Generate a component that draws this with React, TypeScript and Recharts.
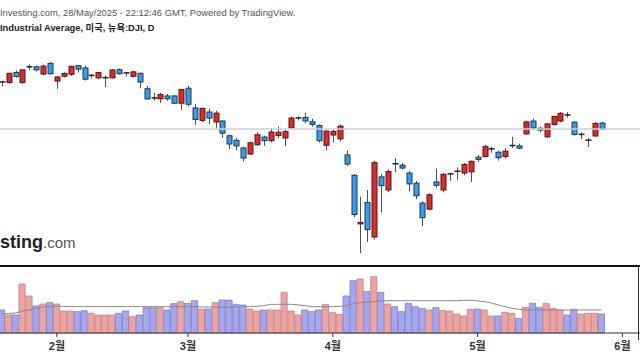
import React from 'react';
import { ComposedChart, Bar, Line, XAxis, YAxis, ReferenceLine, Cell } from 'recharts';

const FONT = "'Liberation Sans', Arial, 'Noto Sans CJK KR', sans-serif";

// trading days shown, 22 Jan .. 28 May 2025
const dates = [
  '01/22', '01/23', '01/24', '01/27', '01/28', '01/29', '01/30', '01/31',
  '02/03', '02/04', '02/05', '02/06', '02/07', '02/10', '02/11', '02/12', '02/13', '02/14',
  '02/18', '02/19', '02/20', '02/21', '02/24', '02/25', '02/26', '02/27', '02/28',
  '03/03', '03/04', '03/05', '03/06', '03/07', '03/10', '03/11', '03/12', '03/13', '03/14',
  '03/17', '03/18', '03/19', '03/20', '03/21', '03/24', '03/25', '03/26', '03/27', '03/28', '03/31',
  '04/01', '04/02', '04/03', '04/04', '04/07', '04/08', '04/09', '04/10', '04/11', '04/14',
  '04/15', '04/16', '04/17', '04/21', '04/22', '04/23', '04/24', '04/25', '04/28', '04/29', '04/30',
  '05/01', '05/02', '05/05', '05/06', '05/07', '05/08', '05/09', '05/12', '05/13', '05/14',
  '05/15', '05/16', '05/19', '05/20', '05/21', '05/22', '05/23', '05/27', '05/28',
];

const opens = [
  44180, 44156, 44600, 44150, 44820, 44850, 44530, 45000,
  44220, 44430, 44520, 44900, 44800, 44440, 44360, 44350, 44360, 44720,
  44580, 44430, 44560, 43880, 43470, 43430, 43560, 43560, 43240,
  43900, 43030, 42480, 42850, 42410, 42450, 41800, 41600, 41260, 40990,
  41400, 41740, 41580, 41810, 41700, 42150, 42570, 42610, 42420, 42250, 41380,
  41830, 41660, 40950, 40050, 37900, 38850, 37320, 39980, 39400, 40560,
  40500, 40150, 39700, 38820, 38550, 39760, 39400, 40080, 40190, 40150, 40200,
  40850, 40880, 41200, 41070, 40880, 41330, 41350, 41880, 42450, 42130,
  41750, 42300, 42450, 42720, 42400, 41830, 41580, 41790, 42360,
];

const highs = [
  44240, 44580, 44690, 44730, 44960, 44900, 44950, 45054,
  44450, 44600, 44890, 44930, 44900, 44530, 44620, 44470, 44740, 44780,
  44600, 44680, 44600, 44000, 43700, 43690, 43650, 43600, 43880,
  44000, 43200, 43050, 43000, 42900, 42500, 41850, 41700, 41300, 41550,
  41960, 41800, 42150, 42200, 42050, 42650, 42650, 42820, 42550, 42300, 42050,
  42100, 42300, 41150, 40100, 39100, 39400, 40700, 40100, 40300, 40800,
  40600, 40250, 39800, 38900, 39250, 40350, 40150, 40150, 40400, 40600, 40700,
  40950, 41400, 41300, 41150, 41250, 41750, 41450, 42470, 42550, 42200,
  42350, 42680, 42850, 42850, 42450, 41950, 41700, 42400, 42420,
];

const lows = [
  43980, 44100, 44380, 44100, 44700, 44650, 44480, 44500,
  43880, 44380, 44440, 44600, 44250, 44330, 44300, 43950, 44330, 44500,
  44420, 44380, 43900, 43400, 43350, 43250, 43350, 43200, 42950,
  43100, 42280, 42400, 42320, 42150, 41700, 41200, 41150, 40660, 40950,
  41350, 41350, 41500, 41700, 41350, 42100, 42480, 42350, 42200, 41500, 41150,
  41500, 41550, 40450, 38200, 36612, 37100, 37200, 38400, 39300, 40200,
  40300, 39350, 39000, 37800, 38500, 39500, 39300, 39800, 39850, 40050, 39750,
  40650, 40850, 41050, 40700, 40800, 41250, 41200, 41850, 42050, 41950,
  41700, 42250, 42400, 42600, 41800, 41650, 41300, 41750, 42050,
];

const closes = [
  44157, 44565, 44424, 44714, 44851, 44714, 44882, 44545,
  44400, 44556, 44873, 44747, 44303, 44470, 44593, 44368, 44711, 44546,
  44556, 44627, 44176, 43428, 43461, 43621, 43433, 43239, 43841,
  43191, 42521, 43006, 42579, 42802, 41912, 41433, 41350, 40813, 41488,
  41842, 41581, 41965, 41953, 41985, 42583, 42588, 42455, 42300, 41584, 42002,
  41989, 42226, 40546, 38315, 37966, 37646, 40609, 39594, 40213, 40525,
  40369, 39669, 39142, 38171, 39187, 39607, 40093, 40114, 40228, 40527, 40669,
  40753, 41317, 41219, 40829, 41114, 41368, 41249, 42410, 42140, 42051,
  42323, 42655, 42792, 42677, 41860, 41859, 41603, 42343, 42098,
];

// volume, millions of shares
const volumes = [
  345, 270, 270, 735, 555, 405, 435, 455,
  435, 330, 330, 320, 335, 295, 270, 270, 270, 295,
  330, 245, 270, 380, 380, 380, 345, 440, 470,
  445, 485, 360, 360, 455, 495, 495, 430, 420, 360,
  330, 345, 345, 345, 610, 330, 270, 345, 320, 345, 430,
  305, 280, 555, 785, 810, 620, 845, 610, 435, 395,
  320, 445, 395, 370, 345, 380, 335, 330, 285, 255, 355,
  360, 345, 255, 255, 310, 295, 220, 385, 445, 385,
  445, 370, 345, 270, 355, 285, 295, 295, 285,
];

// volume moving average as drawn
const volumeAvg = [
  290, 290, 300, 330, 345, 370, 390, 400,
  405, 398, 396, 396, 396, 396, 396, 396, 396, 396,
  396, 396, 396, 395, 395, 395, 395, 395, 395,
  395, 395, 392, 390, 388, 386, 385, 390, 395, 400,
  400, 410, 430, 430, 430, 430, 420, 410, 395, 395, 395,
  395, 400, 410, 440, 455, 465, 470, 480, 485, 485,
  485, 485, 485, 485, 485, 485, 485, 485, 485, 490, 490,
  480, 470, 450, 420, 395, 370, 355, 345, 345, 345,
  345, 345, 345, 345, 345, 345, 345, 345, 345,
];

const monthTicks = [8, 27, 48, 69, 90];
const monthLabels = ['2월', '3월', '4월', '5월', '6월'];
const lastPrice = 42098;

const rows = dates.map((date, i) => ({
  i,
  date,
  open: opens[i],
  high: highs[i],
  low: lows[i],
  close: closes[i],
  range: [lows[i], highs[i]],
  volume: volumes[i],
  ma: volumeAvg[i],
}));

const xDomain: [number, number] = [-0.25, 92.55];

const Candle = (props: any) => {
  const { x, y, width, height, payload } = props;
  if (x == null || !payload) return null;
  const { open, close, high, low } = payload;
  const top = Math.min(y, y + height);
  const h = Math.abs(height);
  const yOf = (v: number) => top + ((high - v) / (high - low)) * h;
  const cx = Math.round(x + width / 2) + 0.5;
  const up = close >= open;
  const doji = Math.abs(close - open) < 50;
  const bodyTop = yOf(Math.max(open, close));
  const bodyBottom = yOf(Math.min(open, close));
  return (
    <g>
      <line x1={cx} x2={cx} y1={top} y2={top + h} stroke="#505050" strokeWidth={1} />
      {doji ? (
        <line x1={cx - 3} x2={cx + 3} y1={bodyTop} y2={bodyTop} stroke="#222" strokeWidth={1.5} />
      ) : (
        <rect
          x={cx - 2.5}
          y={bodyTop}
          width={5}
          height={Math.max(bodyBottom - bodyTop, 1)}
          fill={up ? '#d32f2f' : '#3d9ae6'}
          stroke={up ? '#6a1010' : '#173b5e'}
          strokeWidth={1}
        />
      )}
    </g>
  );
};

export default function App() {
  return (
    <div
      style={{
        position: 'fixed',
        left: 0,
        top: 0,
        width: 640,
        height: 360,
        background: '#fff',
        overflow: 'hidden',
        fontFamily: FONT,
      }}
    >
      {/* header + watermark */}
      <svg width={640} height={360} style={{ position: 'absolute', left: 0, top: 0 }}>
        <text x={0} y={16} fontSize={9.4} fill="#555" fontFamily={FONT}>
          Investing.com, 28/May/2025 - 22:12:46 GMT, Powered by TradingView.
        </text>
        <text x={0} y={31} fontSize={9.3} fontWeight="bold" fill="#222" fontFamily={FONT}>
          Industrial Average, 미국, 뉴욕:DJI, D
        </text>
        <text x={0} y={248} fontFamily={FONT}>
          <tspan fontSize={18} fontWeight="bold" fill="#222">sting</tspan>
          <tspan fontSize={15} fill="#555">.com</tspan>
        </text>
      </svg>

      {/* price pane */}
      <div style={{ position: 'absolute', left: 0, top: 40 }}>
        <ComposedChart width={640} height={225} data={rows} margin={{ top: 0, right: 0, bottom: 0, left: 0 }}>
          <XAxis type="number" dataKey="i" domain={xDomain} hide allowDataOverflow />
          <YAxis hide domain={[36080, 46036]} allowDataOverflow />
          <ReferenceLine y={lastPrice} stroke="#c9d2de" strokeWidth={1.5} />
          <Bar dataKey="range" barSize={5} shape={<Candle />} isAnimationActive={false} />
        </ComposedChart>
      </div>

      {/* pane separator */}
      <div style={{ position: 'absolute', left: 0, top: 265, width: 640, height: 2, background: '#111' }} />
      <div style={{ position: 'absolute', left: 638, top: 265, width: 1, height: 75, background: '#333' }} />

      {/* volume pane */}
      <div style={{ position: 'absolute', left: 0, top: 269 }}>
        <ComposedChart width={640} height={91} data={rows} margin={{ top: 0, right: 0, bottom: 0, left: 0 }}>
          <XAxis
            type="number"
            dataKey="i"
            domain={xDomain}
            allowDataOverflow
            ticks={monthTicks}
            interval={0}
            tickFormatter={(v: number) => monthLabels[monthTicks.indexOf(v)] ?? ''}
            height={27}
            axisLine={{ stroke: '#333' }}
            tickLine={{ stroke: '#333' }}
            tickSize={4}
            tickMargin={5}
            tick={{ fontSize: 11, fill: '#333', fontWeight: 'bold', fontFamily: FONT }}
          />
          <YAxis hide domain={[0, 960]} />
          <Bar dataKey="volume" barSize={7} isAnimationActive={false}>
            {rows.map((r) => (
              <Cell
                key={r.i}
                fill={r.close >= r.open ? '#eaa4a4' : '#a6a6ec'}
                stroke={r.close >= r.open ? '#c98282' : '#7e7ec8'}
                strokeWidth={0.8}
              />
            ))}
          </Bar>
          <Line dataKey="ma" stroke="#8a8a8a" strokeWidth={1} dot={false} isAnimationActive={false} />
        </ComposedChart>
      </div>
    </div>
  );
}
